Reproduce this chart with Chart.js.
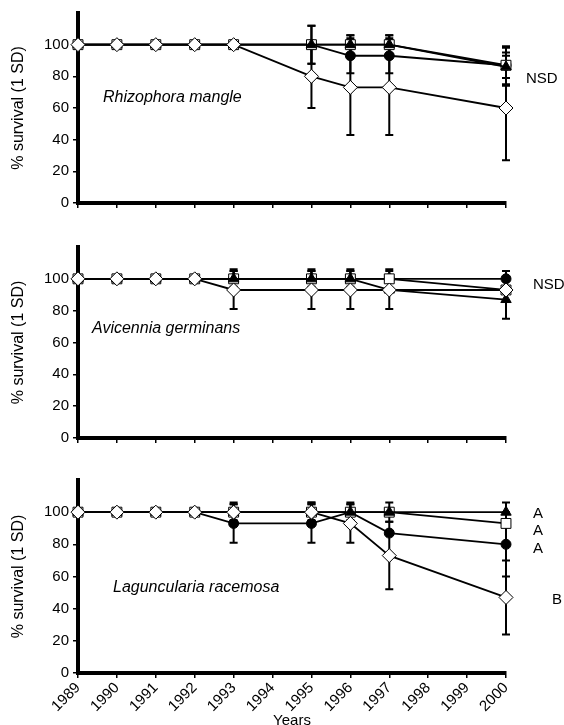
<!DOCTYPE html>
<html>
<head>
<meta charset="utf-8">
<script src="https://cdn.jsdelivr.net/npm/chart.js@4"></script>
<style>
  html, body { margin: 0; padding: 0; background: #fff; width: 564px; height: 725px; overflow: hidden; position: relative; }
  canvas { position: absolute; left: 0; }
  .lbl { position: absolute; font-family: "Liberation Sans", Arial, sans-serif; color: #000; white-space: nowrap; line-height: 1; }
  .sp { font-style: italic; font-size: 16px; }
  .sig { font-size: 15px; }
</style>
</head>
<body>
<canvas id="c1" width="564" height="225" style="top:0px"></canvas>
<canvas id="c2" width="564" height="226" style="top:234px"></canvas>
<canvas id="c3" width="564" height="265" style="top:465px"></canvas>

<div class="lbl sp" style="left:103px; top:89px">Rhizophora mangle</div>
<div class="lbl sp" style="left:92px; top:320px">Avicennia germinans</div>
<div class="lbl sp" style="left:113px; top:579px">Laguncularia racemosa</div>

<div class="lbl sig" style="left:526px; top:70px">NSD</div>
<div class="lbl sig" style="left:533px; top:276px">NSD</div>
<div class="lbl sig" style="left:533px; top:505px">A</div>
<div class="lbl sig" style="left:533px; top:522px">A</div>
<div class="lbl sig" style="left:533px; top:540px">A</div>
<div class="lbl sig" style="left:552px; top:591px">B</div>

<script>
// sampling years (no survey in 1994, 1998, 1999)
const years = [1989, 1990, 1991, 1992, 1993, 1995, 1996, 1997, 2000];

// Rhizophora mangle
const rhizCircle   = [100, 100, 100, 100, 100, 100, 93, 93, 87];
const rhizCircleSd = [0, 0, 0, 0, 0, 0, 11, 11, 8];
const rhizSquare   = [100, 100, 100, 100, 100, 100, 100, 100, 87];
const rhizSquareSd = [0, 0, 0, 0, 0, 12, 6, 6, 12];
const rhizTri      = [100, 100, 100, 100, 100, 100, 100, 100, 86];
const rhizTriSd    = [0, 0, 0, 0, 0, 12, 6, 6, 12];
const rhizDiam     = [100, 100, 100, 100, 100, 80, 73, 73, 60];
const rhizDiamSd   = [0, 0, 0, 0, 0, 20, 30, 30, 33];

// Avicennia germinans
const aviCircle   = [100, 100, 100, 100, 100, 100, 100, 100, 100];
const aviCircleSd = [0, 0, 0, 0, 0, 0, 0, 0, 5];
const aviSquare   = [100, 100, 100, 100, 100, 100, 100, 100, 93];
const aviSquareSd = [0, 0, 0, 0, 5, 5, 5, 6, 0];
const aviTri      = [100, 100, 100, 100, 100, 100, 100, 93, 87];
const aviTriSd    = [0, 0, 0, 0, 6, 6, 6, 0, 12];
const aviDiam     = [100, 100, 100, 100, 93, 93, 93, 93, 93];
const aviDiamSd   = [0, 0, 0, 0, 12, 12, 12, 12, 0];

// Laguncularia racemosa
const lagCircle   = [100, 100, 100, 100, 93, 93, 100, 87, 80];
const lagCircleSd = [0, 0, 0, 0, 12, 12, 0, 0, 20];
const lagSquare   = [100, 100, 100, 100, 100, 100, 100, 100, 93];
const lagSquareSd = [0, 0, 0, 0, 5, 5, 5, 0, 0];
const lagTri      = [100, 100, 100, 100, 100, 100, 100, 100, 100];
const lagTriSd    = [0, 0, 0, 0, 0, 6, 6, 6, 6];
const lagDiam     = [100, 100, 100, 100, 100, 100, 93, 73, 47];
const lagDiamSd   = [0, 0, 0, 0, 6, 6, 12, 21, 23];

const yTicks = [0, 20, 40, 60, 80, 100];
const FONT = '"Liberation Sans", Arial, sans-serif';

/* error bars drawn under the markers */
const errorBars = {
  id: 'errorBars',
  beforeDatasetsDraw(chart) {
    const { ctx, scales: { x, y } } = chart;
    ctx.save();
    ctx.strokeStyle = '#000';
    ctx.lineWidth = 2;
    chart.data.datasets.forEach(ds => {
      ds.sd.forEach((sd, i) => {
        if (!sd) return;
        const v = ds.data[i].y;
        const px = x.getPixelForValue(ds.data[i].x);
        const top = y.getPixelForValue(v + sd);
        const bot = y.getPixelForValue(v - sd);
        ctx.beginPath();
        ctx.moveTo(px, top); ctx.lineTo(px, bot);
        ctx.moveTo(px - 4, top); ctx.lineTo(px + 4, top);
        ctx.moveTo(px - 4, bot); ctx.lineTo(px + 4, bot);
        ctx.stroke();
      });
    });
    ctx.restore();
  }
};

function series(vals, sd, style) {
  const base = {
    data: years.map((x, i) => ({ x: x, y: vals[i] })),
    sd: sd,
    borderColor: '#000',
    borderWidth: 1.8,
    pointBorderColor: '#000',
    pointBorderWidth: 1,
    clip: false
  };
  if (style === 'circle') return Object.assign(base, { pointStyle: 'circle', pointRadius: 5, pointBackgroundColor: '#000' });
  if (style === 'square') return Object.assign(base, { pointStyle: 'rect', pointRadius: 7, pointBackgroundColor: '#fff' });
  if (style === 'tri') return Object.assign(base, { pointStyle: 'triangle', pointRadius: 6, pointBackgroundColor: '#000' });
  return Object.assign(base, { pointStyle: 'rectRot', pointRadius: 7, pointBackgroundColor: '#fff' });
}

function makePanel(id, sets, padTop, xHeight, showX) {
  new Chart(document.getElementById(id), {
    type: 'line',
    data: {
      // Chart.js paints the first dataset last, so diamonds come first to sit on top
      datasets: [
        series(sets[6], sets[7], 'diamond'),
        series(sets[4], sets[5], 'tri'),
        series(sets[2], sets[3], 'square'),
        series(sets[0], sets[1], 'circle')
      ]
    },
    options: {
      responsive: false,
      animation: false,
      events: [],
      layout: { padding: { top: padTop, right: 58, left: 0, bottom: 0 } },
      plugins: { legend: { display: false }, tooltip: { enabled: false } },
      scales: {
        x: {
          type: 'linear',
          min: years[0],
          max: years[years.length - 1],
          offset: false,
          afterFit: s => { s.height = xHeight; },
          border: { display: true, color: '#000', width: 4 },
          grid: { drawOnChartArea: false, drawTicks: true, tickLength: 5, tickColor: '#000', lineWidth: 1.5 },
          ticks: {
            display: showX,
            stepSize: 1,
            autoSkip: false,
            minRotation: 45,
            maxRotation: 45,
            padding: 1,
            color: '#000',
            font: { family: FONT, size: 15 },
            callback: v => String(v)
          },
          title: {
            display: showX,
            text: 'Years',
            color: '#000',
            padding: 0,
            font: { family: FONT, size: 15 }
          }
        },
        y: {
          min: 0,
          max: 120,
          afterFit: s => { s.width = 78; },
          afterBuildTicks: s => { s.ticks = yTicks.concat([120]).map(v => ({ value: v })); },
          border: { display: true, color: '#000', width: 4 },
          grid: {
            drawOnChartArea: false,
            drawTicks: true,
            tickLength: 5,
            lineWidth: 1.5,
            tickColor: c => (c.tick && c.tick.value === 120) ? 'rgba(0,0,0,0)' : '#000'
          },
          ticks: {
            padding: 4,
            color: '#000',
            font: { family: FONT, size: 15 },
            callback: v => v === 120 ? '' : String(v)
          },
          title: {
            display: true,
            text: '% survival (1 SD)',
            color: '#000',
            padding: { top: 9, bottom: 0 },
            font: { family: FONT, size: 16 }
          }
        }
      }
    },
    plugins: [errorBars]
  });
}

makePanel('c1', [rhizCircle, rhizCircleSd, rhizSquare, rhizSquareSd, rhizTri, rhizTriSd, rhizDiam, rhizDiamSd], 13, 22, false);
makePanel('c2', [aviCircle, aviCircleSd, aviSquare, aviSquareSd, aviTri, aviTriSd, aviDiam, aviDiamSd], 13, 22, false);
makePanel('c3', [lagCircle, lagCircleSd, lagSquare, lagSquareSd, lagTri, lagTriSd, lagDiam, lagDiamSd], 15, 57, true);
</script>
</body>
</html>
